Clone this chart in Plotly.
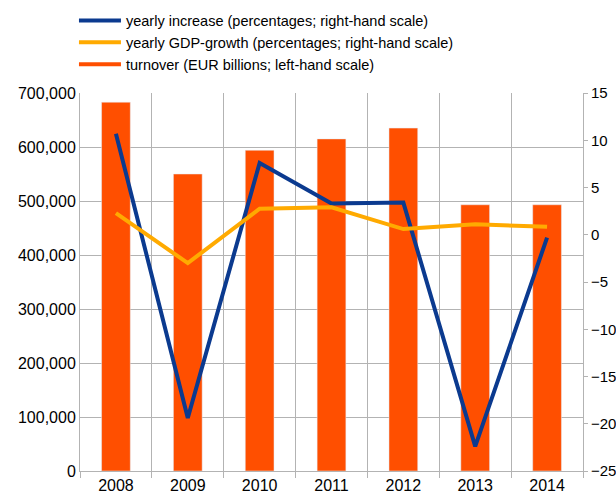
import plotly.graph_objects as go

YEARS = ["2008", "2009", "2010", "2011", "2012", "2013", "2014"]
TURNOVER = [683000, 550000, 594000, 615000, 635000, 493000, 493000]
YEARLY_INCREASE = [10.7, -19.4, 7.6, 3.3, 3.4, -22.4, -0.3]
GDP_GROWTH = [2.3, -3.0, 2.75, 2.9, 0.6, 1.1, 0.85]

BAR_COLOR = "#FF4F00"
BLUE = "#0B3A8F"
GOLD = "#FFAA00"
GRID = "#B3B3B3"
FONT = "Liberation Sans, Arial, sans-serif"

fig = go.Figure()

fig.add_trace(
    go.Bar(
        x=YEARS,
        y=TURNOVER,
        marker_color=BAR_COLOR,
        width=0.4,
        showlegend=False,
        yaxis="y",
    )
)
fig.add_trace(
    go.Scatter(
        x=YEARS,
        y=YEARLY_INCREASE,
        mode="lines",
        line={"color": BLUE, "width": 4},
        name="yearly increase (percentages; right-hand scale)",
        yaxis="y2",
    )
)
fig.add_trace(
    go.Scatter(
        x=YEARS,
        y=GDP_GROWTH,
        mode="lines",
        line={"color": GOLD, "width": 4},
        name="yearly GDP-growth (percentages; right-hand scale)",
        yaxis="y2",
    )
)
# legend entry for the bars, drawn as a line like the original
fig.add_trace(
    go.Scatter(
        x=[None],
        y=[None],
        mode="lines",
        line={"color": BAR_COLOR, "width": 4},
        name="turnover (EUR billions; left-hand scale)",
    )
)

fig.update_layout(
    width=616,
    height=496,
    margin={"l": 80, "r": 33, "t": 93, "b": 25, "autoexpand": False},
    paper_bgcolor="white",
    plot_bgcolor="white",
    font={"family": FONT, "size": 16, "color": "#000000"},
    legend={
        "x": -0.012,
        "y": 1.234,
        "xanchor": "left",
        "yanchor": "top",
        "font": {"size": 14.5},
        "tracegroupgap": 0,
        "itemwidth": 42,
    },
    xaxis={
        "type": "category",
        "automargin": False,
        "tickson": "boundaries",
        "showgrid": True,
        "gridcolor": GRID,
        "ticks": "outside",
        "ticklen": 6,
        "tickcolor": GRID,
        "showline": True,
        "linecolor": GRID,
        "linewidth": 1,
    },
    yaxis={
        "range": [0, 700000],
        "dtick": 100000,
        "tickformat": ",",
        "automargin": False,
        "showgrid": True,
        "gridcolor": GRID,
        "zeroline": False,
        "showline": True,
        "linecolor": GRID,
        "ticks": "",
    },
    yaxis2={
        "range": [-25, 15],
        "dtick": 5,
        "overlaying": "y",
        "side": "right",
        "automargin": False,
        "showgrid": False,
        "zeroline": False,
        "showline": True,
        "linecolor": GRID,
        "ticks": "outside",
        "ticklen": 4,
        "tickcolor": GRID,
        "tickfont": {"size": 15},
    },
)

# drop the default page margin so the 616x496 figure fills the window exactly
fig.write_html(
    "out.html",
    config={"displayModeBar": False},
    post_script="document.body.style.margin='0';document.body.style.overflow='hidden';",
)
